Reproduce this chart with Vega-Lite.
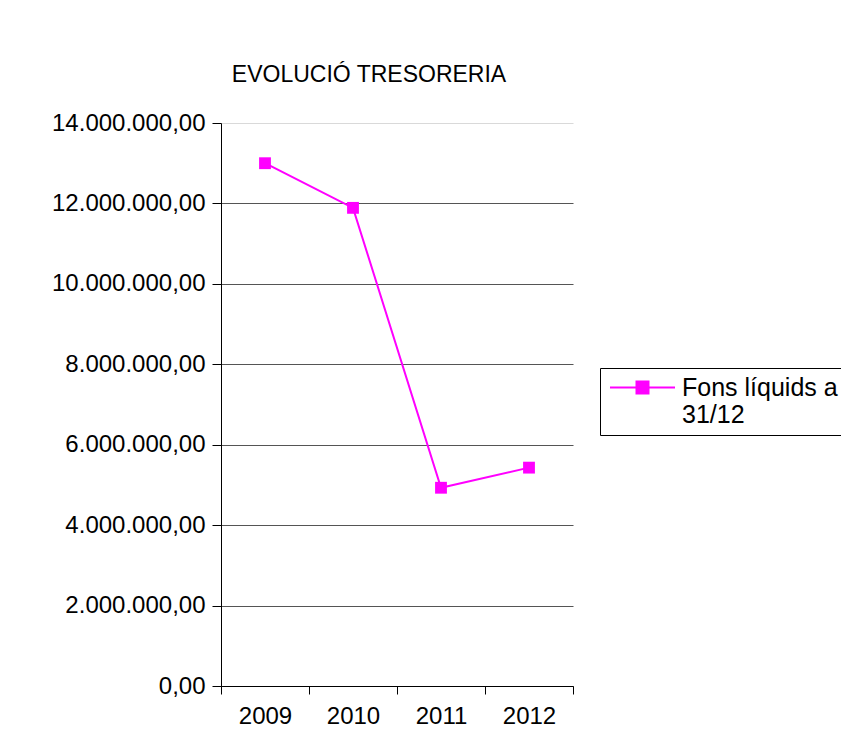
{
  "$schema": "https://vega.github.io/schema/vega-lite/v6.json",
  "autosize": "none",
  "width": 352,
  "height": 563,
  "padding": {"left": 221, "top": 123, "right": 268, "bottom": 67},
  "background": "white",
  "config": {
    "font": "Liberation Sans",
    "view": {"stroke": null},
    "locale": {"number": {"decimal": ",", "thousands": ".", "grouping": [3], "currency": ["", " €"]}}
  },
  "title": {
    "text": "EVOLUCIÓ TRESORERIA",
    "fontSize": 23,
    "fontWeight": "normal",
    "color": "black",
    "offset": 24,
    "dx": -28,
    "anchor": "middle",
    "frame": "group"
  },
  "data": {
    "values": [
      {"year": "2009", "value": 13000000, "serie": "Fons líquids a 31/12"},
      {"year": "2010", "value": 11890000, "serie": "Fons líquids a 31/12"},
      {"year": "2011", "value": 4930000, "serie": "Fons líquids a 31/12"},
      {"year": "2012", "value": 5430000, "serie": "Fons líquids a 31/12"}
    ]
  },
  "mark": {"type": "line", "strokeWidth": 2, "point": {"shape": "square", "size": 140, "filled": true, "opacity": 1}},
  "encoding": {
    "x": {
      "field": "year", "type": "ordinal",
      "scale": {"paddingInner": 0, "paddingOuter": 0},
      "axis": {
        "title": null, "labelAngle": 0, "labelFontSize": 24, "labelColor": "black",
        "domainColor": "black", "tickColor": "black", "tickSize": 8, "tickBand": "extent",
        "labelPadding": 10, "grid": false
      }
    },
    "y": {
      "field": "value", "type": "quantitative",
      "scale": {"domain": [0, 14000000], "nice": false},
      "axis": {
        "title": null, "format": ",.2f", "values": [0, 2000000, 4000000, 6000000, 8000000, 10000000, 12000000, 14000000],
        "labelFontSize": 24, "labelColor": "black", "labelPadding": 7,
        "domainColor": "black", "tickColor": "black", "tickSize": 9,
        "grid": true,
        "gridColor": {"condition": {"test": "datum.value === 14000000", "value": "#d9d9d9"}, "value": "#555555"},
        "gridWidth": 1.2
      }
    },
    "color": {
      "field": "serie", "type": "nominal",
      "scale": {"range": ["#FF00FF"]},
      "legend": {
        "title": null, "orient": "none", "legendX": 379, "legendY": 245,
        "strokeColor": "black", "fillColor": "white", "padding": 7,
        "symbolType": "M-3.25,0H3.25M-0.6,-0.6H0.6V0.6H-0.6Z",
        "symbolSize": 400, "symbolOffset": 23, "symbolStrokeWidth": 2, "symbolFillColor": "#FF00FF", "symbolStrokeColor": "#FF00FF",
        "labelExpr": "['Fons líquids a', '31/12']",
        "labelFontSize": 25, "labelColor": "black", "labelLimit": 400, "labelOffset": 27
      }
    }
  }
}
